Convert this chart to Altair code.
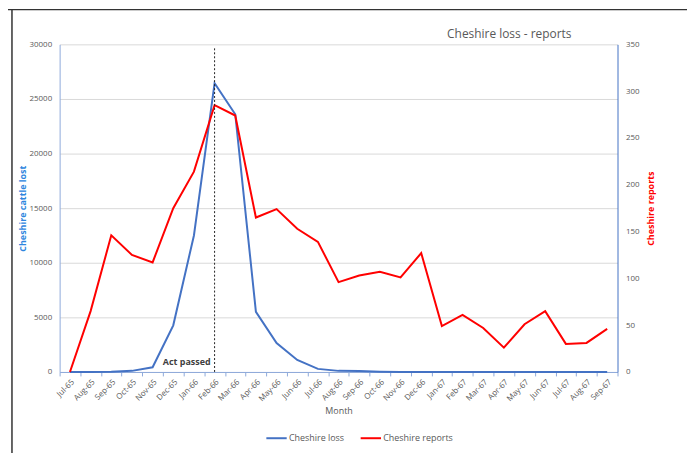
import altair as alt
import pandas as pd

months = ["Jul-65", "Aug-65", "Sep-65", "Oct-65", "Nov-65", "Dec-65", "Jan-66", "Feb-66",
          "Mar-66", "Apr-66", "May-66", "Jun-66", "Jul-66", "Aug-66", "Sep-66", "Oct-66",
          "Nov-66", "Dec-66", "Jan-67", "Feb-67", "Mar-67", "Apr-67", "May-67", "Jun-67",
          "Jul-67", "Aug-67", "Sep-67"]
cheshire_loss = [0, 0, 20, 100, 430, 4270, 12500, 26450, 23600, 5500, 2650, 1100, 280, 100,
                 80, 20, 0, 0, 0, 0, 0, 0, 0, 0, 0, 0, 0]
cheshire_reports = [0, 65, 146, 125, 117, 175, 214, 285, 274, 165, 174, 153, 139, 96, 103,
                    107, 101, 127, 49, 61, 47, 26, 51, 65, 30, 31, 46]
series_names = ["Cheshire loss", "Cheshire reports"]
series_colors = ["#4472C4", "#FF0000"]
act_month = ["Feb-66"]
act_label = ["Act passed"]
chart_title = ["Cheshire loss - reports"]

FONT = "Open Sans"
GRAY = "#595959"

df = pd.DataFrame({"Month": months, "loss": cheshire_loss, "reports": cheshire_reports})

xenc = alt.X("Month:N", sort=months, bandPosition=0.5,
             scale=alt.Scale(type="band", paddingInner=0, paddingOuter=0),
             axis=alt.Axis(title="Month", labelAngle=-45, labelFontSize=8, labelColor=GRAY,
                           titleFontSize=9, titleColor=GRAY, titleFontWeight="normal",
                           titlePadding=4, domainColor="#8EA9DB", tickColor="#8EA9DB",
                           tickBand="extent", tickSize=4, grid=False, labelPadding=2))

color_scale = alt.Scale(domain=series_names, range=series_colors)
legend = alt.Legend(title=None, orient="none", legendX=207, legendY=385, direction="horizontal",
                    symbolType="stroke", symbolStrokeWidth=2, symbolSize=420,
                    labelFontSize=9, labelColor=GRAY, labelFont=FONT, columnPadding=12,
                    labelOffset=1)

base = alt.Chart(df)

loss_line = base.transform_calculate(series="'Cheshire loss'").mark_line(strokeWidth=2).encode(
    x=xenc,
    y=alt.Y("loss:Q", scale=alt.Scale(domain=[0, 30000], nice=False),
            axis=alt.Axis(orient="left", title="Cheshire cattle lost", values=list(range(0, 30001, 5000)),
                          format="d", labelFontSize=8, labelColor=GRAY, titleColor="#2E86DE",
                          titleFontSize=9, titleFontWeight="bold", titlePadding=2,
                          domainColor="#8EA9DB", ticks=False, labelPadding=8,
                          gridColor="#D9D9D9", grid=True)),
    color=alt.Color("series:N", scale=color_scale, legend=legend),
)

reports_line = base.transform_calculate(series="'Cheshire reports'").mark_line(strokeWidth=2).encode(
    x=xenc,
    y=alt.Y("reports:Q", scale=alt.Scale(domain=[0, 350], nice=False),
            axis=alt.Axis(orient="right", title="Cheshire reports", values=list(range(0, 351, 50)),
                          labelFontSize=8, labelColor=GRAY, titleColor="#FF0000",
                          titleFontSize=9, titleFontWeight="bold", titleAngle=270,
                          titleBaseline="top", titlePadding=8,
                          domainColor="#4472C4", ticks=False, labelPadding=8, grid=False)),
    color=alt.Color("series:N", scale=color_scale, legend=legend),
)

act_df = pd.DataFrame({"Month": act_month, "label": act_label})

act_rule = alt.Chart(act_df).mark_rule(color="#222222", strokeDash=[2, 2], strokeWidth=1).encode(
    x=alt.X("Month:N", sort=months, bandPosition=0.5),
    y=alt.value(4), y2=alt.value(330),
)

act_text = alt.Chart(act_df).mark_text(align="right", baseline="middle", dx=-4, fontSize=9,
                                       fontWeight="bold", color="#404040", font=FONT).encode(
    x=alt.X("Month:N", sort=months, bandPosition=0.5),
    y=alt.value(320),
    text="label:N",
)

title_df = pd.DataFrame({"t": chart_title})
title_text = alt.Chart(title_df).mark_text(align="center", baseline="middle", fontSize=12,
                                           color=GRAY, font=FONT).encode(
    x=alt.value(453), y=alt.value(-10), text="t:N")

frame_df = pd.DataFrame({"k": [0]})
frame_top = alt.Chart(frame_df).mark_rule(color="#333333", strokeWidth=1.5).encode(
    x=alt.value(-52), x2=alt.value(700), y=alt.value(-35))
frame_left = alt.Chart(frame_df).mark_rule(color="#333333", strokeWidth=1.5).encode(
    x=alt.value(-48), y=alt.value(-35), y2=alt.value(500))

chart = alt.layer(loss_line, reports_line, act_rule, act_text, title_text, frame_top, frame_left).resolve_scale(
    y="independent"
).properties(
    width=562, height=330,
    padding={"left": 52, "top": 35, "right": 70, "bottom": 80},
    autosize=alt.AutoSizeParams(type="none"),
).configure(font=FONT).configure_view(stroke=None).configure_axis(labelFont=FONT, titleFont=FONT)

chart.save("out.html", embed_options={"renderer": "svg", "actions": False})
